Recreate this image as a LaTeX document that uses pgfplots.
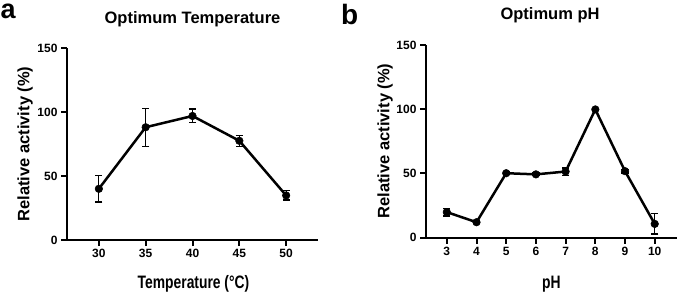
\documentclass[border=0pt]{standalone}
\usepackage{fontspec}
\setmainfont{Liberation Sans}
\usepackage{graphicx}
\usepackage{pgfplots}
\usepackage{pgfplotstable}
\pgfplotsset{compat=1.18}

\pgfplotstableread{
x y e
30 40.0 10.3
35 88.1 14.8
40 96.9 5.4
45 77.5 4.4
50 34.8 3.6
}\tempdata
\pgfplotstableread{
x y e
3 19.8 3.1
4 11.9 1.2
5 50.1 1.0
6 49.2 1.0
7 51.4 2.8
8 99.8 0.8
9 51.7 1.5
10 10.6 7.9
}\phdata

\pgfplotsset{
  gp/.style={
    scale only axis,
    anchor=south west,
    axis lines=left,
    axis line style={-, line width=2pt, black},
    tick align=outside,
    major tick length=6pt,
    tick style={line width=2pt, black},
    ymin=0, ymax=150,
    ytick={0,50,100,150},
    clip=false,
    ticklabel style={font=\fontsize{12}{12}\selectfont\bfseries},
    /pgf/number format/assume math mode=true,
    xtick pos=bottom, ytick pos=left,
  },
  gpplot/.style={
    black, line width=2.5pt,
    mark=*, mark size=3.8pt, mark options={solid, fill=black, line width=0.5pt},
  },
  gperr/.style={
    error bars/y dir=both, error bars/y explicit,
    error bars/error bar style={line width=1.2pt, black},
    error bars/error mark options={rotate=90, mark size=3.6pt, line width=1.2pt, black},
  },
}

\begin{document}
\begin{tikzpicture}[x=1pt,y=1pt]
\useasboundingbox (0,0) rectangle (677,292);

\begin{axis}[gp,
  at={(67pt,52pt)}, width=251pt, height=192pt,
  xmin=26.6, xmax=53.4, xtick={30,35,40,45,50}]
  \addplot[gpplot, gperr] table[x=x, y=y, y error=e] {\tempdata};
\end{axis}

\begin{axis}[gp,
  at={(426pt,54.5pt)}, width=251pt, height=192.5pt,
  xmin=2.3, xmax=10.75, xtick={3,4,5,6,7,8,9,10}]
  \addplot[gpplot, gperr] table[x=x, y=y, y error=e] {\phdata};
\end{axis}

% panel letters
\node[anchor=base west, inner sep=0pt, font=\fontsize{27}{27}\selectfont\bfseries] at (0.5,273) {a};
\node[anchor=base west, inner sep=0pt, font=\fontsize{28}{28}\selectfont\bfseries] at (341,267) {b};

% titles
\node[anchor=base, inner sep=0pt, font=\fontsize{16.5}{16.5}\selectfont\bfseries] at (192.5,268.7) {Optimum Temperature};
\node[anchor=base, inner sep=0pt, font=\fontsize{16.5}{16.5}\selectfont\bfseries] at (550,272) {Optimum pH};

% x labels
\node[anchor=base, inner sep=0pt] at (193.5,3.3) {\scalebox{0.77}[1]{\fontsize{18}{18}\selectfont\bfseries Temperature (°C)}};
\node[anchor=base, inner sep=0pt] at (551.3,4) {\scalebox{0.77}[1]{\fontsize{18}{18}\selectfont\bfseries pH}};

% y labels
\node[rotate=90, inner sep=0pt, font=\fontsize{16.5}{16.5}\selectfont\bfseries] at (25,148) {Relative activity (\%)};
\node[rotate=90, inner sep=0pt, font=\fontsize{16.5}{16.5}\selectfont\bfseries] at (385,151) {Relative activity (\%)};
\end{tikzpicture}
\end{document}
